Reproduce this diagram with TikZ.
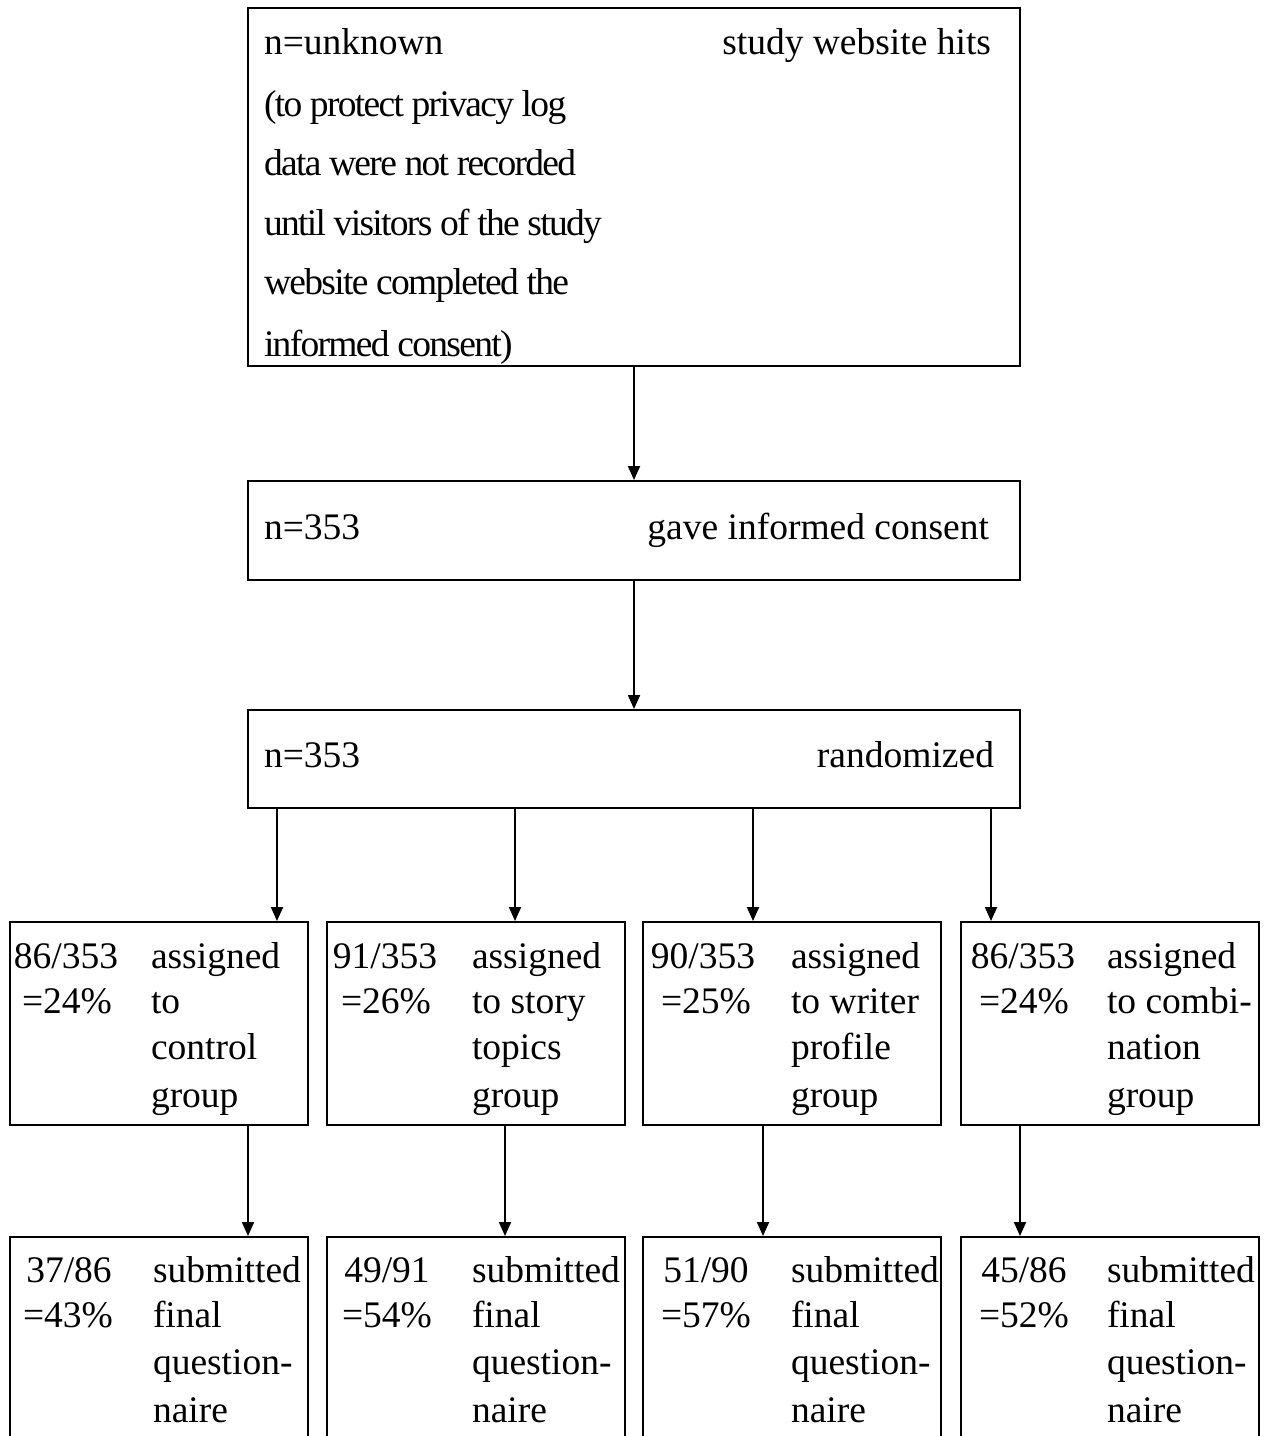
\documentclass[tikz,border=0pt]{standalone}
\usepackage{fontspec}
\setmainfont{Liberation Serif}
\usetikzlibrary{arrows.meta}

\begin{document}
\begin{tikzpicture}[
    x = 0.5pt,
    y = -0.5pt,
    line width = 1pt,
    >={Triangle[width=6pt,length=7pt]},
    font = \fontsize{18.75}{22}\selectfont,
    box/.style = {
      draw,
      rectangle,
      inner sep = 0pt
    },
    wide/.style = {box, minimum width = 386pt},
    small/.style = {box, minimum width = 149pt},
    txt/.style = {
      inner sep = 0pt,
      text height = 0.7em,
      text depth = 0.25em,
      yshift = -4pt
    },
    tight/.style = {
      txt,
      anchor = west,
      font = \fontsize{18.75}{22}\selectfont\addfontfeatures{LetterSpace=-4.5}
    }
  ]
  \path[use as bounding box, clip] (0,0) rectangle (1268,1436);

  % boxes
  \node[wide, minimum height = 179pt] (hits) at (634,187) {};
  \node[wide, minimum height = 49.5pt] (consent) at (634,530.5) {};
  \node[wide, minimum height = 49pt] (random) at (634,759) {};

  \node[small, minimum height = 101.5pt] (ctrl) at (159,1023.5) {};
  \node[small, minimum height = 101.5pt] (story) at (475.5,1023.5) {};
  \node[small, minimum height = 101.5pt] (writer) at (792,1023.5) {};
  \node[small, minimum height = 101.5pt] (combi) at (1110,1023.5) {};

  % bottom row runs off the page
  \node[small, minimum height = 111.5pt] (ctrlq) at (159,1348.5) {};
  \node[small, minimum height = 111.5pt] (storyq) at (475.5,1348.5) {};
  \node[small, minimum height = 111.5pt] (writerq) at (792,1348.5) {};
  \node[small, minimum height = 111.5pt] (combiq) at (1110,1348.5) {};

  % arrows
  \draw[->] (hits) -- (consent);
  \draw[->] (consent) -- (random);

  \draw[->] (277,0 |- random.south) -- (277,0 |- ctrl.north);
  \draw[->] (515,0 |- random.south) -- (515,0 |- story.north);
  \draw[->] (753,0 |- random.south) -- (753,0 |- writer.north);
  \draw[->] (991,0 |- random.south) -- (991,0 |- combi.north);

  \draw[->] (248,0 |- ctrl.south) -- (248,0 |- ctrlq.north);
  \draw[->] (505,0 |- story.south) -- (505,0 |- storyq.north);
  \draw[->] (763,0 |- writer.south) -- (763,0 |- writerq.north);
  \draw[->] (1020,0 |- combi.south) -- (1020,0 |- combiq.north);

  % texts of the top boxes
  \node[txt, anchor = west] (h1) at (263,42) {n=unknown};
  \node[txt, anchor = east] (h0) at (992,42) {study website hits};
  \node[tight] (h2) at (263,104) {(to protect privacy log};
  \node[tight] (h3) at (263,163) {data were not recorded};
  \node[tight] (h4) at (263,223) {until visitors of the study};
  \node[tight] (h5) at (263,282) {website completed the};
  \node[tight] (h6) at (263,344) {informed consent)};

  \node[txt, anchor = west] (c1) at (263,527) {n=353};
  \node[txt, anchor = east] (c0) at (990,527) {gave informed consent};

  \node[txt, anchor = west] (r1) at (263,755) {n=353};
  \node[txt, anchor = east] (r0) at (995,755) {randomized};

  % group boxes
  \node[txt] (g1a) at (66,956) {86/353};
  \node[txt] (g1b) at (67,1001) {=24\%};
  \node[txt, anchor = west] (g1c) at (150,956) {assigned};
  \node[txt, anchor = west] (g1d) at (150,1001) {to};
  \node[txt, anchor = west] (g1e) at (150,1047) {control};
  \node[txt, anchor = west] (g1f) at (150,1095) {group};

  \node[txt] (g2a) at (385,956) {91/353};
  \node[txt] (g2b) at (386,1001) {=26\%};
  \node[txt, anchor = west] (g2c) at (471,956) {assigned};
  \node[txt, anchor = west] (g2d) at (471,1001) {to story};
  \node[txt, anchor = west] (g2e) at (471,1047) {topics};
  \node[txt, anchor = west] (g2f) at (471,1095) {group};

  \node[txt] (g3a) at (703,956) {90/353};
  \node[txt] (g3b) at (706,1001) {=25\%};
  \node[txt, anchor = west] (g3c) at (790,956) {assigned};
  \node[txt, anchor = west] (g3d) at (790,1001) {to writer};
  \node[txt, anchor = west] (g3e) at (790,1047) {profile};
  \node[txt, anchor = west] (g3f) at (790,1095) {group};

  \node[txt] (g4a) at (1023,956) {86/353};
  \node[txt] (g4b) at (1024,1001) {=24\%};
  \node[txt, anchor = west] (g4c) at (1106,956) {assigned};
  \node[txt, anchor = west] (g4d) at (1106,1001) {to combi-};
  \node[txt, anchor = west] (g4e) at (1106,1047) {nation};
  \node[txt, anchor = west] (g4f) at (1106,1095) {group};

  % questionnaire boxes
  \node[txt] (q1a) at (69,1270) {37/86};
  \node[txt] (q1b) at (68,1315) {=43\%};
  \node[txt, anchor = west] (q1c) at (152,1270) {submitted};
  \node[txt, anchor = west] (q1d) at (152,1315) {final};
  \node[txt, anchor = west] (q1e) at (152,1362) {question-};
  \node[txt, anchor = west] (q1f) at (152,1410) {naire};

  \node[txt] (q2a) at (387,1270) {49/91};
  \node[txt] (q2b) at (387,1315) {=54\%};
  \node[txt, anchor = west] (q2c) at (471,1270) {submitted};
  \node[txt, anchor = west] (q2d) at (471,1315) {final};
  \node[txt, anchor = west] (q2e) at (471,1362) {question-};
  \node[txt, anchor = west] (q2f) at (471,1410) {naire};

  \node[txt] (q3a) at (706,1270) {51/90};
  \node[txt] (q3b) at (706,1315) {=57\%};
  \node[txt, anchor = west] (q3c) at (790,1270) {submitted};
  \node[txt, anchor = west] (q3d) at (790,1315) {final};
  \node[txt, anchor = west] (q3e) at (790,1362) {question-};
  \node[txt, anchor = west] (q3f) at (790,1410) {naire};

  \node[txt] (q4a) at (1024,1270) {45/86};
  \node[txt] (q4b) at (1024,1315) {=52\%};
  \node[txt, anchor = west] (q4c) at (1106,1270) {submitted};
  \node[txt, anchor = west] (q4d) at (1106,1315) {final};
  \node[txt, anchor = west] (q4e) at (1106,1362) {question-};
  \node[txt, anchor = west] (q4f) at (1106,1410) {naire};

\end{tikzpicture}
\end{document}
